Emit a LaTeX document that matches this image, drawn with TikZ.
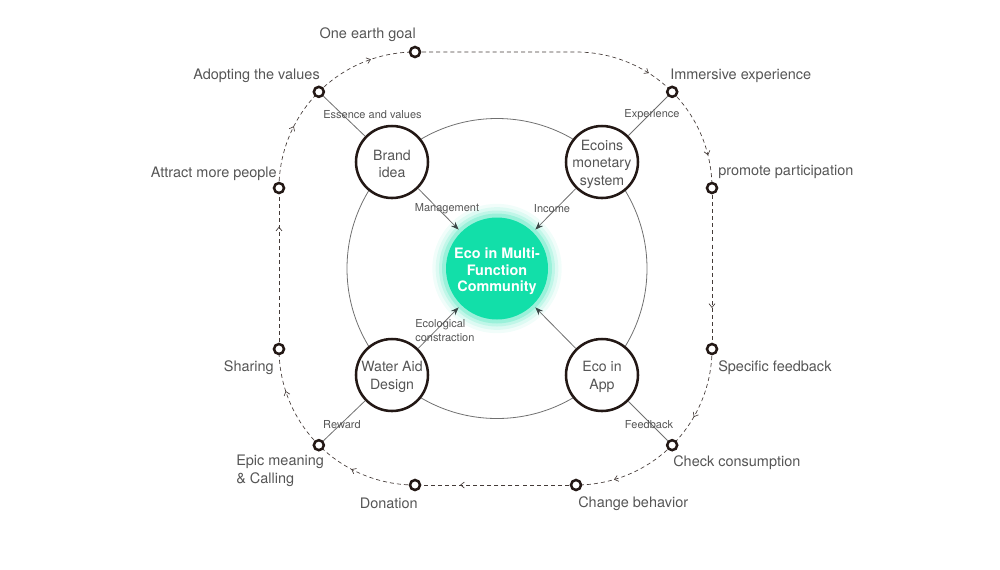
\documentclass[tikz,border=0pt]{standalone}
\usepackage{fontspec}
\setmainfont{TeX Gyre Heros}
\usetikzlibrary{arrows.meta,decorations.markings,calc}
\definecolor{ink}{HTML}{231815}
\definecolor{txt}{HTML}{555555}
\definecolor{eco}{HTML}{12DFA9}
\definecolor{lin}{HTML}{707070}
\definecolor{arr}{HTML}{3A4646}
\begin{document}
\begin{tikzpicture}[x=0.75pt,y=-0.75pt,
  ring/.style={circle,draw=ink,line width=1.9pt,fill=white,minimum size=7.5pt,inner sep=0pt},
  sat/.style={circle,draw=ink,line width=1.9pt,fill=white,minimum size=54pt,inner sep=0pt},
  sattext/.style={align=center,font=\fontsize{10.6}{13.2}\selectfont,text=txt,inner sep=0pt,yshift=-1.6pt},
  ecotext/.style={align=center,text=white,font=\bfseries\fontsize{10.8}{12.5}\selectfont,inner sep=0pt,yshift=-2.2pt},
  lab/.style={font=\fontsize{10.85}{13.3}\selectfont,text=txt,inner sep=0pt},
  small/.style={font=\fontsize{8.25}{10.5}\selectfont,text=txt,inner sep=0pt},
  spoke/.style={draw=lin,line width=0.6pt},
  inarrow/.style={draw=lin,line width=0.6pt,-{Stealth[length=6pt,width=4.5pt,color=arr]},shorten >=2.5pt},
  flow/.style={draw=ink!85,line width=0.5pt,dash pattern=on 3pt off 2.3pt,
    postaction={decorate},
    decoration={markings,mark=at position #1 with {\arrow[solid]{Straight Barb[length=2.8pt,width=4.5pt,line width=0.5pt]}}}}
]
\useasboundingbox (0,0) rectangle (1000,569);

% corner centres of the outer loop
\coordinate (cTL) at (415,188);
\coordinate (cTR) at (576,188);
\coordinate (cBL) at (415,349);
\coordinate (cBR) at (576,349);

% flow path (drawn first)
\draw[flow=0.888] (415,52) -- (576,52) arc[start angle=90,end angle=45,radius=102pt];
\draw[flow=0.69] ($(cTR)+(-45:136)$) arc[start angle=45,end angle=0,radius=102pt];
\draw[flow=0.745] (712,188) -- (712,349);
\draw[flow=0.667] (712,349) arc[start angle=0,end angle=-45,radius=102pt];
\draw[flow=0.64] ($(cBR)+(45:136)$) arc[start angle=-45,end angle=-90,radius=102pt];
\draw[flow=0.72] (576,485) -- (415,485);
\draw[flow=0.62] (415,485) arc[start angle=-90,end angle=-135,radius=102pt];
\draw[flow=0.6] ($(cBL)+(135:136)$) arc[start angle=-135,end angle=-180,radius=102pt];
\draw[flow=0.76] (279,349) -- (279,188);
\draw[flow=0.6] (279,188) arc[start angle=180,end angle=135,radius=102pt];
\draw[flow=0.58] ($(cTL)+(-135:136)$) arc[start angle=135,end angle=90,radius=102pt];

% big circle
\coordinate (mid) at (497,268.5);
\draw[lin,line width=0.6pt] (mid) circle[radius=112.5pt];

% green glow
\foreach \r/\o in {48.5pt/0.06,46pt/0.09,43.5pt/0.14,41.25pt/0.22}{
  \fill[eco,opacity=\o] (mid) circle[radius=\r];
}
\node[circle,fill=eco,minimum size=76.5pt,inner sep=0pt,
  label={[ecotext]center:{Eco in Multi-\\Function\\Community}}] (eco) at (mid) {};

% satellites
\node[sat,label={[sattext]center:{Brand\\idea}}] (brand) at (392,162) {};
\node[sat,label={[sattext]center:{Ecoins\\monetary\\system}}] (coin) at (602,162) {};
\node[sat,label={[sattext]center:{Water Aid\\Design}}] (water) at (392,375) {};
\node[sat,label={[sattext]center:{Eco in\\App}}] (app) at (602,375) {};

% ring nodes
\node[ring] (og) at (415,52) {};
\node[ring] (im) at ($(cTR)+(-45:136)$) {};
\node[ring] (pp) at (712,188) {};
\node[ring] (sf) at (712,349) {};
\node[ring] (cc) at ($(cBR)+(45:136)$) {};
\node[ring] (cb) at (576,485) {};
\node[ring] (dn) at (415,485) {};
\node[ring] (ep) at ($(cBL)+(135:136)$) {};
\node[ring] (sh) at (279,349) {};
\node[ring] (am) at (279,188) {};
\node[ring] (ad) at ($(cTL)+(-135:136)$) {};

% spokes
\draw[spoke] (ad) -- (brand);
\draw[spoke] (im) -- (coin);
\draw[spoke] (ep) -- (water);
\draw[spoke] (cc) -- (app);

% inner arrows
\draw[inarrow] (brand) -- (eco);
\draw[inarrow] (coin) -- (eco);
\draw[inarrow] (water) -- (eco);
\draw[inarrow] (app) -- (eco);

% small labels
\node[small] (l1) at (372.5,115) {Essence and values};
\node[small] (l2) at (652,115) {Experience};
\node[small] (l3) at (342,425) {Reward};
\node[small] (l4) at (649,425) {Feedback};
\node[small] (l5) at (447,209) {Management};
\node[small] (l6) at (552,209) {Income};
\node[small,anchor=west,align=left] (l7) at (415,331) {Ecological\\constraction};

% outer labels
\node[lab,anchor=east] (t1) at (416,34.5) {One earth goal};
\node[lab,anchor=east] (t2) at (320,75.5) {Adopting the values};
\node[lab,anchor=west] (t3) at (670,75.5) {Immersive experience};
\node[lab,anchor=west] (t4) at (718,171.5) {promote participation};
\node[lab,anchor=east] (t5) at (277,173.5) {Attract more people};
\node[lab,anchor=east] (t6) at (274,367.5) {Sharing};
\node[lab,anchor=west] (t7) at (718,367.5) {Specific feedback};
\node[lab,anchor=west,align=left] (t8) at (236,471) {Epic meaning\\\& Calling};
\node[lab,anchor=west] (t9) at (673,462.5) {Check consumption};
\node[lab,anchor=east] (t10) at (418,503.5) {Donation};
\node[lab,anchor=west] (t11) at (578,503.5) {Change behavior};
\end{tikzpicture}
\end{document}
